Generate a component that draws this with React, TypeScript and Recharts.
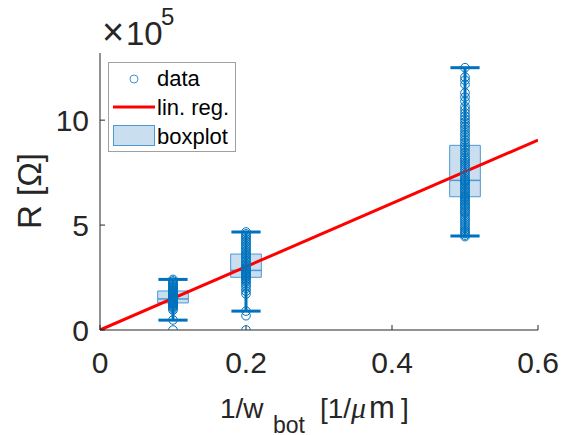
import React from 'react';
import {
  ComposedChart,
  XAxis,
  YAxis,
  Scatter,
  Line,
  ReferenceArea,
  ReferenceLine,
} from 'recharts';

// x positions of the three widths (1/w_bot)
const groupX = [0.1, 0.2, 0.5];

// measured resistance values per group [Ohm]
const group1 = [
  0, 0.48e5, 0.95e5, 1.02e5, 1.08e5, 1.12e5, 1.16e5, 1.2e5, 1.23e5, 1.26e5,
  1.29e5, 1.31e5, 1.33e5, 1.36e5, 1.39e5, 1.41e5, 1.44e5, 1.46e5, 1.48e5,
  1.5e5, 1.52e5, 1.55e5, 1.58e5, 1.61e5, 1.64e5, 1.68e5, 1.72e5, 1.76e5,
  1.8e5, 1.84e5, 1.87e5, 1.91e5, 1.96e5, 2.01e5, 2.06e5, 2.11e5, 2.16e5,
  2.22e5, 2.28e5, 2.34e5, 2.41e5,
];
const group2 = [
  0, 0.68e5, 0.9e5, 1.72e5, 1.85e5, 1.98e5, 2.1e5, 2.2e5, 2.3e5, 2.38e5,
  2.45e5, 2.51e5, 2.57e5, 2.63e5, 2.68e5, 2.73e5, 2.78e5, 2.84e5, 2.9e5,
  2.96e5, 3.02e5, 3.09e5, 3.16e5, 3.24e5, 3.32e5, 3.4e5, 3.48e5, 3.56e5,
  3.62e5, 3.7e5, 3.78e5, 3.86e5, 3.94e5, 4.02e5, 4.1e5, 4.18e5, 4.26e5,
  4.34e5, 4.42e5, 4.5e5, 4.58e5, 4.67e5,
];
const group5 = [
  4.45e5, 4.52e5, 4.6e5, 4.68e5, 4.75e5, 4.85e5, 4.95e5, 5.05e5, 5.15e5,
  5.25e5, 5.35e5, 5.45e5, 5.55e5, 5.62e5, 5.7e5, 5.78e5, 5.86e5, 5.93e5,
  6.0e5, 6.08e5, 6.15e5, 6.22e5, 6.3e5, 6.35e5, 6.42e5, 6.5e5, 6.58e5,
  6.65e5, 6.72e5, 6.8e5, 6.88e5, 6.95e5, 7.03e5, 7.1e5, 7.13e5, 7.2e5,
  7.3e5, 7.4e5, 7.5e5, 7.6e5, 7.7e5, 7.8e5, 7.9e5, 8.0e5, 8.1e5, 8.2e5,
  8.32e5, 8.45e5, 8.58e5, 8.7e5, 8.8e5, 8.92e5, 9.05e5, 9.18e5, 9.3e5,
  9.42e5, 9.55e5, 9.68e5, 9.8e5, 9.92e5, 10.05e5, 10.2e5, 10.35e5, 10.5e5,
  10.65e5, 10.9e5, 11.1e5, 11.3e5, 11.7e5, 11.9e5, 12.05e5, 12.5e5,
];
const groupValues = [group1, group2, group5];

// boxplot statistics
const q1 = [1.29e5, 2.51e5, 6.35e5];
const median = [1.48e5, 2.84e5, 7.13e5];
const q3 = [1.86e5, 3.62e5, 8.8e5];
const whiskerLow = [0.47e5, 0.9e5, 4.48e5];
const whiskerHigh = [2.41e5, 4.67e5, 12.5e5];

// linear regression end points
const regX = [0, 0.6];
const regY = [0, 9.05e5];

const xTicks = [0, 0.2, 0.4, 0.6];
const yTicks = [0, 5e5, 10e5];

const points = groupX.flatMap((x, i) => groupValues[i].map((y) => ({ x, y })));
const regLine = regX.map((x, i) => ({ x, y: regY[i] }));

const FONT = '"Liberation Sans", Arial, Helvetica, sans-serif';
const AXIS = '#262626';
const BLUE = '#0072BD';
const BOX_FILL = '#c9dff0';
const BOX_EDGE = '#4f98d2';
const BOX_HALF = 0.021;
const CAP_HALF = 0.02;

const Circle = (props: any) => (
  <circle cx={props.cx} cy={props.cy} r={4.3} fill="none" stroke={BLUE} strokeWidth={1} />
);

export default function App() {
  return (
    <div style={{ position: 'absolute', left: 0, top: 0, width: 569, height: 435, background: '#fff' }}>
      <ComposedChart
        width={569}
        height={435}
        margin={{ top: 53, right: 31, left: 0, bottom: 0 }}
      >
        <XAxis
          type="number"
          dataKey="x"
          domain={[0, 0.6]}
          ticks={xTicks}
          tickFormatter={(v) => String(v)}
          height={105}
          tickSize={-5}
          tickMargin={27}
          stroke={AXIS}
          tick={{ fill: AXIS, fontSize: 30, fontFamily: FONT }}
          allowDataOverflow
        />
        <XAxis
          xAxisId="top"
          orientation="top"
          type="number"
          domain={[0, 0.6]}
          ticks={xTicks}
          height={0}
          tickSize={-5}
          tick={false}
          stroke={AXIS}
          allowDataOverflow
        />
        <YAxis
          type="number"
          domain={[0, 13.2e5]}
          ticks={yTicks}
          tickFormatter={(v) => String(v / 1e5)}
          width={100}
          tickSize={-5}
          tickMargin={16}
          stroke={AXIS}
          tick={{ fill: AXIS, fontSize: 30, fontFamily: FONT }}
          allowDataOverflow
        />
        <YAxis
          yAxisId="right"
          orientation="right"
          type="number"
          domain={[0, 13.2e5]}
          ticks={yTicks}
          width={0}
          tickSize={-5}
          tick={false}
          stroke={AXIS}
          allowDataOverflow
        />

        {groupX.map((x, i) => (
          <ReferenceArea
            key={`box${i}`}
            x1={x - BOX_HALF}
            x2={x + BOX_HALF}
            y1={q1[i]}
            y2={q3[i]}
            fill={BOX_FILL}
            fillOpacity={1}
            stroke={BOX_EDGE}
            strokeWidth={1}
          />
        ))}
        {groupX.map((x, i) => (
          <ReferenceLine
            key={`med${i}`}
            segment={[{ x: x - BOX_HALF, y: median[i] }, { x: x + BOX_HALF, y: median[i] }]}
            stroke={BOX_EDGE}
            strokeWidth={1.5}
          />
        ))}
        {groupX.map((x, i) => (
          <ReferenceLine
            key={`wv${i}`}
            segment={[{ x, y: whiskerLow[i] }, { x, y: whiskerHigh[i] }]}
            stroke={BLUE}
            strokeWidth={3}
          />
        ))}
        {groupX.map((x, i) => (
          <ReferenceLine
            key={`wl${i}`}
            segment={[{ x: x - CAP_HALF, y: whiskerLow[i] }, { x: x + CAP_HALF, y: whiskerLow[i] }]}
            stroke={BLUE}
            strokeWidth={3}
          />
        ))}
        {groupX.map((x, i) => (
          <ReferenceLine
            key={`wh${i}`}
            segment={[{ x: x - CAP_HALF, y: whiskerHigh[i] }, { x: x + CAP_HALF, y: whiskerHigh[i] }]}
            stroke={BLUE}
            strokeWidth={3}
          />
        ))}

        <Scatter data={points} dataKey="y" shape={Circle} isAnimationActive={false} />
        <Line
          data={regLine}
          dataKey="y"
          stroke="#ff0000"
          strokeWidth={3}
          dot={false}
          activeDot={false}
          isAnimationActive={false}
        />
      </ComposedChart>

      <svg
        width={569}
        height={435}
        style={{ position: 'absolute', left: 0, top: 0, pointerEvents: 'none' }}
        fontFamily={FONT}
        fill={AXIS}
      >
        <text x={102} y={45} fontSize={38} fontWeight={300}>×</text>
        <text x={126} y={45} fontSize={33}>10</text>
        <text x={161} y={25} fontSize={24}>5</text>

        <text
          x={41}
          y={191}
          fontSize={33}
          textAnchor="middle"
          transform="rotate(-90, 41, 191)"
        >
          R [Ω]
        </text>

        <text y={418} fontSize={28}>
          <tspan x={220}>1/w</tspan>
          <tspan x={273} y={433} fontSize={23}>bot</tspan>
          <tspan x={320} y={418}>[1/</tspan>
          <tspan x={351} fontStyle="italic" fontFamily='"Liberation Serif", serif' fontSize={30}>μ</tspan>
          <tspan x={369} fontSize={31}>m</tspan>
          <tspan x={401}>]</tspan>
        </text>

        <rect x={108.5} y={62.5} width={127} height={89} fill="#fff" stroke="#a0a0a0" strokeWidth={1} />
        <circle cx={134} cy={79} r={4} fill="none" stroke="#3d97d9" strokeWidth={1} />
        <text x={157} y={86} fontSize={22} fill="#000">data</text>
        <line x1={113} x2={155} y1={107} y2={107} stroke="#ff0000" strokeWidth={3} />
        <text x={157} y={115} fontSize={22} fill="#000">lin. reg.</text>
        <rect x={113.5} y={125.5} width={41} height={20} fill={BOX_FILL} stroke={BOX_EDGE} strokeWidth={1} />
        <text x={157} y={144} fontSize={22} fill="#000">boxplot</text>
      </svg>
    </div>
  );
}
